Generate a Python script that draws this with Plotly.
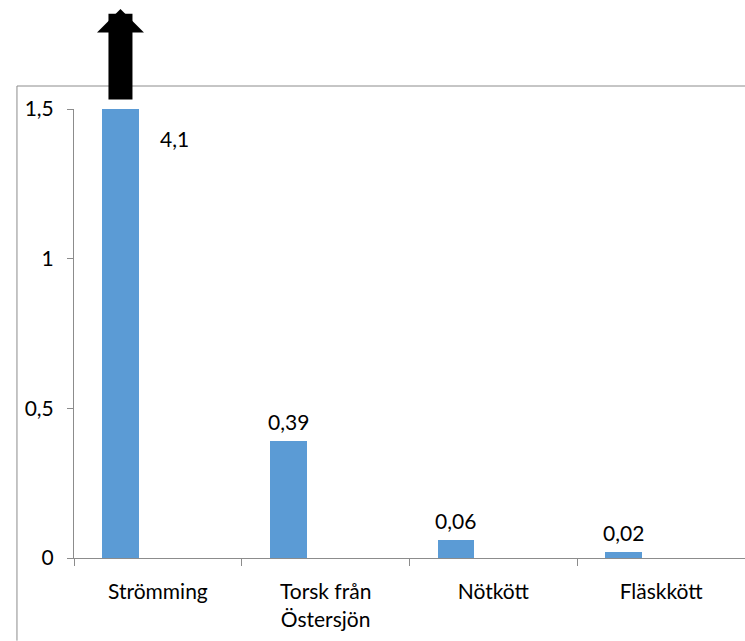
import plotly.graph_objects as go

categories = ["Strömming", "Torsk från<br>Östersjön", "Nötkött", "Fläskkött"]
values = [4.1, 0.39, 0.06, 0.02]
y_ticks = [0, 0.5, 1, 1.5]

FONT = "Lato, 'Open Sans', sans-serif"
BLUE = "#5b9bd5"
AXIS = "#8c8c8c"
BAR_OFFSET = -0.333
BAR_WIDTH = 0.22

def fmt(v):
    return str(v).replace(".", ",")

fig = go.Figure()
fig.add_trace(go.Bar(
    x=categories,
    y=values,
    marker=dict(color=BLUE, line=dict(width=0)),
    width=BAR_WIDTH,
    offset=BAR_OFFSET,
    showlegend=False,
    hoverinfo="x+y",
))

# value labels above the bars
bar_center = BAR_OFFSET + BAR_WIDTH / 2
for i, v in enumerate(values):
    if i == 0:
        # first bar is clipped at the top of the axis; label sits beside it
        fig.add_annotation(
            x=0.1, y=1.4, xref="x", yref="y",
            text=fmt(v), showarrow=False,
            font=dict(family=FONT, size=21, color="black"),
        )
    else:
        fig.add_annotation(
            x=i + bar_center, y=v, xref="x", yref="y",
            text=fmt(v), showarrow=False, yanchor="bottom", yshift=5,
            font=dict(family=FONT, size=21, color="black"),
        )

# big black arrow indicating the first bar exceeds the axis
fig.add_annotation(
    x=bar_center, y=1.2227, xref="x", yref="paper",
    ax=0, ay=92, axref="pixel", ayref="pixel",
    text="", showarrow=True,
    arrowhead=1, arrowsize=0.326, arrowwidth=24, arrowcolor="black",
)

# chart-area border (only left and top edges are visible in the crop)
fig.add_shape(type="line", xref="paper", yref="paper",
              x0=-0.085, x1=-0.085, y0=-0.184, y1=1.0512,
              line=dict(color=AXIS, width=1), layer="below")
fig.add_shape(type="line", xref="paper", yref="paper",
              x0=-0.085, x1=1.0, y0=1.0512, y1=1.0512,
              line=dict(color=AXIS, width=1), layer="below")

fig.update_layout(
    width=745, height=641,
    margin=dict(l=74, r=0, t=109, b=83),
    paper_bgcolor="white", plot_bgcolor="white",
    separators=", ",
    bargap=0,
    font=dict(family=FONT, size=21, color="black"),
    xaxis=dict(
        type="category", range=[-0.5, 3.5],
        showline=True, linecolor=AXIS, linewidth=1,
        ticks="outside", tickson="boundaries", ticklen=7, tickcolor=AXIS,
        ticklabelstandoff=15,
        showgrid=False, zeroline=False,
        tickfont=dict(family=FONT, size=21, color="black"),
    ),
    yaxis=dict(
        range=[0, 1.5], tickvals=y_ticks,
        showline=True, linecolor=AXIS, linewidth=1,
        ticks="outside", ticklen=6, tickcolor=AXIS,
        ticklabelstandoff=9,
        showgrid=False, zeroline=False,
        tickfont=dict(family=FONT, size=21, color="black"),
    ),
)

fig.write_html("out.html")
